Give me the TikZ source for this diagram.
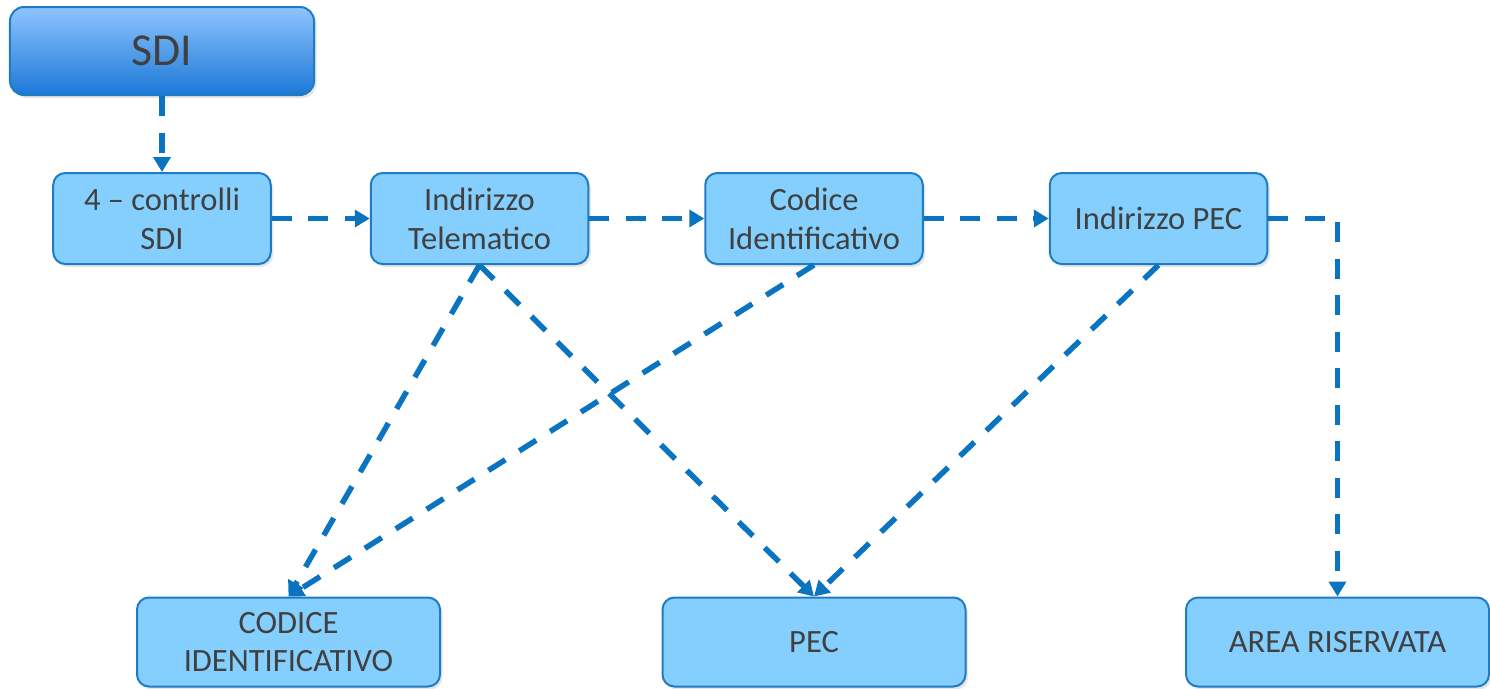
\documentclass[tikz,border=0pt]{standalone}
\usepackage{fontspec}
\setmainfont{Carlito}
\usetikzlibrary{arrows.meta, positioning, shadows}

\definecolor{boxfill}{HTML}{85CFFF}
\definecolor{boxline}{HTML}{1F7CC4}
\definecolor{flowblue}{HTML}{0A74C0}
\definecolor{txtgray}{HTML}{404040}
\definecolor{topblue}{HTML}{8EC4FF}
\definecolor{botblue}{HTML}{1C78D6}

\tikzset{
    box/.style = {draw=boxline, fill=boxfill, line width=0.04cm, rounded corners=0.24cm,
        text=txtgray, align=center, minimum height=1.82cm,
        font=\fontsize{18.5}{22}\selectfont,
        drop shadow={shadow xshift=0.05cm, shadow yshift=-0.06cm, opacity=0.2}},
    smallbox/.style = {box, minimum width=4.35cm},
    widebox/.style = {box, minimum width=6.06cm, minimum height=1.78cm},
    headbox/.style = {box, top color=topblue, bottom color=botblue, minimum width=6.08cm,
        minimum height=1.76cm, rounded corners=0.28cm, font=\fontsize{26}{30}\selectfont},
    flow/.style = {-{Triangle[length=0.3cm, width=0.34cm]}, color=flowblue,
        line width=0.11cm, dash pattern=on 0.4cm off 0.33cm}
}

\begin{document}
\begin{tikzpicture} [node distance = 2cm, on grid]
        \useasboundingbox (-3.24,1.02) rectangle (26.56,-12.74);

        \node (sdi) [headbox] {SDI};
        \node (ctrl) [smallbox, below = 3.35cm of sdi] {4 -- controlli\\SDI};
        \node (tel) [smallbox, right = 6.35cm of ctrl] {Indirizzo\\Telematico};
        \node (cod) [smallbox, right = 6.69cm of tel] {Codice\\Identificativo};
        \node (pecaddr) [smallbox, right = 6.89cm of cod] {Indirizzo PEC};
        \node (pec) [widebox, below = 8.47cm of cod] {PEC};
        \node (ci) [widebox, left = 10.51cm of pec] {CODICE\\IDENTIFICATIVO};
        \node (area) [widebox, right = 10.47cm of pec] {AREA RISERVATA};

        \path [flow] (sdi) edge (ctrl);
        \path [flow] (ctrl) edge (tel);
        \path [flow] (tel) edge (cod);
        \path [flow] (cod) edge (pecaddr);
        \path [flow] (tel.south) edge (ci.north);
        \path [flow] (tel.south) edge (pec.north);
        \path [flow] (cod.south) edge (ci.north);
        \path [flow] (pecaddr.south) edge (pec.north);
        \draw [flow] (pecaddr) -| (area);

    \end{tikzpicture}
\end{document}
